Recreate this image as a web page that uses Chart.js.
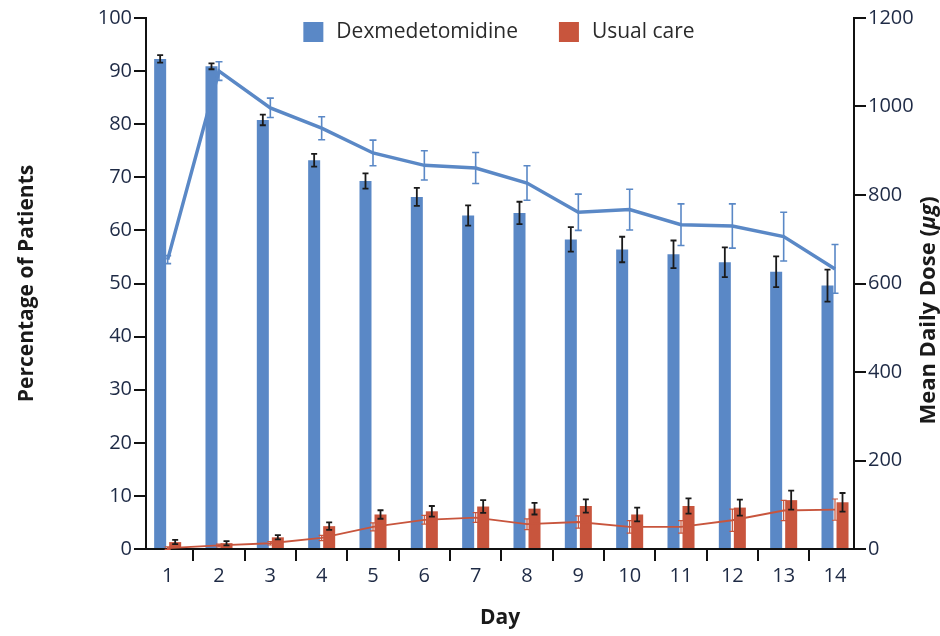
<!DOCTYPE html>
<html>
<head>
<meta charset="utf-8">
<title>Dexmedetomidine vs usual care by day</title>
<script src="https://cdn.jsdelivr.net/npm/chart.js@4.4.1/dist/chart.umd.min.js"></script>
<style>
  html, body { margin: 0; padding: 0; background: #ffffff; }
  #wrap { width: 940px; height: 636px; }
</style>
</head>
<body>
<div id="wrap"><canvas id="chart" width="940" height="636"></canvas></div>
<script>
// Study days
const days = [1, 2, 3, 4, 5, 6, 7, 8, 9, 10, 11, 12, 13, 14];

// Percentage of patients receiving sedative (left axis), with error half-widths
const dexPct      = [92.3, 90.9, 80.8, 73.2, 69.3, 66.3, 62.8, 63.3, 58.3, 56.4, 55.5, 54.0, 52.2, 49.6];
const dexPctErr   = [0.7, 0.55, 1.0, 1.2, 1.45, 1.7, 1.9, 2.1, 2.3, 2.4, 2.6, 2.8, 2.9, 3.0];
const usualPct    = [1.3, 1.1, 2.2, 4.3, 6.5, 7.1, 8.0, 7.6, 8.1, 6.5, 8.1, 7.8, 9.2, 8.8];
const usualPctErr = [0.4, 0.4, 0.4, 0.7, 0.8, 1.0, 1.2, 1.1, 1.25, 1.3, 1.45, 1.5, 1.8, 1.75];

// Mean daily dose in µg (right axis), with error half-widths
const dexDose      = [654, 1080, 997, 951, 895, 867, 861, 827, 761, 767, 733, 730, 706, 633];
const dexDoseErr   = [9, 21, 22, 26, 29, 33, 35, 39, 41, 46, 47, 50, 55, 55];
const usualDose    = [2, 8, 13, 25, 50, 66, 71, 56, 61, 50, 50, 65, 87, 89];
const usualDoseErr = [3, 3, 4, 6, 9, 10, 11, 12, 14, 14, 14, 25, 23, 24];

// Axis ranges and labels
const pctTicks = { min: 0, max: 100, step: 10 };
const doseTicks = { min: 0, max: 1200, step: 200 };
const seriesNames = ['Dexmedetomidine', 'Usual care'];
const axisTitles = { x: 'Day', left: 'Percentage of Patients', right: 'Mean Daily Dose (', unit: 'μg', close: ')' };

const BLUE = '#5a88c6';
const RED = '#c8553d';
const INK = '#1e2a45';
const FONT = "'Open Sans', 'Noto Sans', sans-serif";

const toPoints = (vals) => days.map((d, i) => ({ x: d, y: vals[i] }));

// Draws vertical error bars with caps for datasets carrying an `errors` array
const errorBars = {
  id: 'errorBars',
  afterDatasetsDraw(chart) {
    const ctx = chart.ctx;
    chart.data.datasets.forEach((ds, di) => {
      if (!ds.errors) return;
      const meta = chart.getDatasetMeta(di);
      const yScale = chart.scales[ds.yAxisID];
      ctx.save();
      ctx.strokeStyle = ds.errorColor;
      ctx.lineWidth = ds.errorWidth;
      meta.data.forEach((el, i) => {
        const v = ds.data[i].y, e = ds.errors[i];
        const x = el.x;
        const yTop = yScale.getPixelForValue(v + e);
        const yBot = yScale.getPixelForValue(v - e);
        const c = ds.errorCap / 2;
        ctx.beginPath();
        ctx.moveTo(x, yTop); ctx.lineTo(x, yBot);
        ctx.moveTo(x - c, yTop); ctx.lineTo(x + c, yTop);
        ctx.moveTo(x - c, yBot); ctx.lineTo(x + c, yBot);
        ctx.stroke();
      });
      ctx.restore();
    });
  }
};

// Legend of the two groups, drawn over the top of the plot area
const groupLegend = {
  id: 'groupLegend',
  afterDraw(chart) {
    const ctx = chart.ctx;
    const area = chart.chartArea;
    ctx.save();
    ctx.font = `21px ${FONT}`;
    ctx.textBaseline = 'middle';
    const box = 20, gapText = 13, gapItem = 41;
    const colors = [BLUE, RED];
    const widths = seriesNames.map(n => ctx.measureText(n).width);
    const total = widths.reduce((a, w) => a + box + gapText + w, 0) + gapItem;
    let x = (area.left + area.right) / 2 - total / 2 - 1;
    const yTop = 22;
    seriesNames.forEach((name, i) => {
      ctx.fillStyle = colors[i];
      ctx.fillRect(x, yTop, box, box);
      x += box + gapText;
      ctx.fillStyle = '#2a2a2a';
      ctx.fillText(name, x, yTop + box / 2);
      x += widths[i] + gapItem;
    });
    ctx.restore();
  }
};

// Right-hand axis title, reading bottom to top, with an italic unit
const rightTitle = {
  id: 'rightTitle',
  afterDraw(chart) {
    const ctx = chart.ctx;
    const area = chart.chartArea;
    const bold = `bold 22px ${FONT}`;
    const boldItalic = `italic bold 22px ${FONT}`;
    ctx.save();
    ctx.font = bold;
    const w1 = ctx.measureText(axisTitles.right).width;
    const w3 = ctx.measureText(axisTitles.close).width;
    ctx.font = boldItalic;
    const w2 = ctx.measureText(axisTitles.unit).width;
    const total = w1 + w2 + w3;
    ctx.translate(929, (area.top + area.bottom) / 2 + 27);
    ctx.rotate(-Math.PI / 2);
    ctx.fillStyle = '#1a1a1a';
    ctx.textBaseline = 'middle';
    let x = -total / 2;
    ctx.font = bold; ctx.fillText(axisTitles.right, x, 0); x += w1;
    ctx.font = boldItalic; ctx.fillText(axisTitles.unit, x, 0); x += w2;
    ctx.font = bold; ctx.fillText(axisTitles.close, x, 0);
    ctx.restore();
  }
};

const tickFont = { family: FONT, size: 20 };
const titleFont = { family: FONT, size: 21, weight: 'bold' };

new Chart(document.getElementById('chart'), {
  type: 'bar',
  data: {
    datasets: [
      {
        type: 'line', label: 'Dexmedetomidine dose', data: toPoints(dexDose), yAxisID: 'y2',
        borderColor: BLUE, borderWidth: 3.5, pointRadius: 0, tension: 0, order: 1,
        errors: dexDoseErr, errorColor: BLUE, errorWidth: 1.6, errorCap: 7
      },
      {
        type: 'line', label: 'Usual care dose', data: toPoints(usualDose), yAxisID: 'y2',
        borderColor: RED, borderWidth: 1.8, pointRadius: 0, tension: 0, order: 1,
        errors: usualDoseErr, errorColor: RED, errorWidth: 1.2, errorCap: 6
      },
      {
        label: seriesNames[0], data: toPoints(dexPct), yAxisID: 'y',
        backgroundColor: BLUE, order: 2,
        errors: dexPctErr, errorColor: '#1a1a1a', errorWidth: 1.8, errorCap: 6
      },
      {
        label: seriesNames[1], data: toPoints(usualPct), yAxisID: 'y',
        backgroundColor: RED, order: 2,
        errors: usualPctErr, errorColor: '#1a1a1a', errorWidth: 1.8, errorCap: 6
      }
    ]
  },
  options: {
    responsive: false,
    animation: false,
    layout: { padding: { top: 18, left: 0, right: 0, bottom: 0 } },
    datasets: { bar: { categoryPercentage: 0.585, barPercentage: 0.8 } },
    plugins: { legend: { display: false }, tooltip: { enabled: false } },
    scales: {
      x: {
        type: 'linear', offset: false, min: 0.578, max: 14.37,
        afterBuildTicks(scale) { scale.ticks = scale.ticks.filter(t => Number.isInteger(t.value)); },
        afterFit(scale) { scale.height = 87; },
        ticks: { stepSize: 1, includeBounds: false, font: tickFont, color: INK, padding: 3 },
        grid: { drawOnChartArea: false, drawTicks: true, tickLength: 12, color: '#111', lineWidth: 2 },
        border: { color: '#111', width: 2 },
        title: { display: true, text: axisTitles.x, font: titleFont, color: '#1a1a1a', padding: { top: 4, bottom: 5 } }
      },
      y: {
        position: 'left', min: pctTicks.min, max: pctTicks.max,
        afterFit(scale) { scale.width = 146; },
        ticks: { stepSize: pctTicks.step, font: tickFont, color: INK, padding: 2 },
        grid: { drawOnChartArea: false, drawTicks: true, tickLength: 12, color: '#111', lineWidth: 2 },
        border: { color: '#111', width: 2 },
        title: { display: true, text: axisTitles.left, font: titleFont, color: '#1a1a1a', padding: { top: 14, bottom: 0 } }
      },
      y2: {
        position: 'right', min: doseTicks.min, max: doseTicks.max,
        afterFit(scale) { scale.width = 86; },
        ticks: { stepSize: doseTicks.step, font: tickFont, color: INK, padding: 2, callback: (v) => String(v) },
        grid: { drawOnChartArea: false, drawTicks: true, tickLength: 12, color: '#111', lineWidth: 2 },
        border: { color: '#111', width: 2 }
      }
    }
  },
  plugins: [errorBars, groupLegend, rightTitle]
});
</script>
</body>
</html>
